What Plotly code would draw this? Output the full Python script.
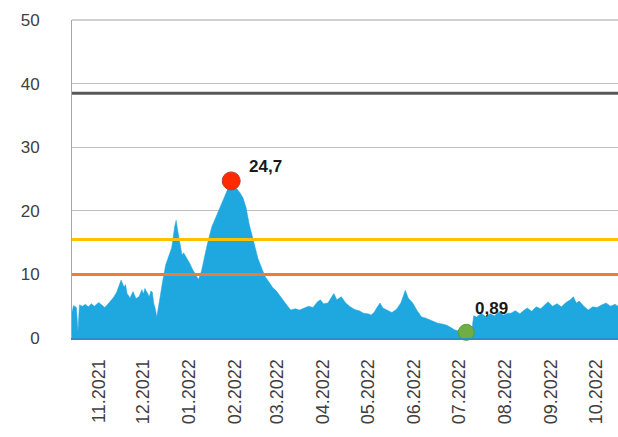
import plotly.graph_objects as go

# Daily index readings (date, value)
dates = [
    "2021-10-14", "2021-10-15", "2021-10-17", "2021-10-18", "2021-10-19", "2021-10-21",
    "2021-10-23", "2021-10-25", "2021-10-27", "2021-10-29", "2021-11-01", "2021-11-03",
    "2021-11-05", "2021-11-07", "2021-11-09", "2021-11-11", "2021-11-13", "2021-11-15",
    "2021-11-16", "2021-11-18", "2021-11-19", "2021-11-20", "2021-11-22", "2021-11-23",
    "2021-11-24", "2021-11-26", "2021-11-28", "2021-11-30", "2021-12-01", "2021-12-02",
    "2021-12-04", "2021-12-05", "2021-12-06", "2021-12-07", "2021-12-08", "2021-12-09",
    "2021-12-10", "2021-12-12", "2021-12-14", "2021-12-16", "2021-12-18", "2021-12-20",
    "2021-12-22", "2021-12-23", "2021-12-24", "2021-12-26", "2021-12-27", "2021-12-28",
    "2021-12-30", "2022-01-01", "2022-01-03", "2022-01-05", "2022-01-07", "2022-01-09",
    "2022-01-11", "2022-01-13", "2022-01-16", "2022-01-19", "2022-01-21", "2022-01-23",
    "2022-01-25", "2022-01-27", "2022-01-29", "2022-01-31", "2022-02-02", "2022-02-04",
    "2022-02-06", "2022-02-08", "2022-02-10", "2022-02-12", "2022-02-14", "2022-02-16",
    "2022-02-19", "2022-02-21", "2022-02-24", "2022-02-26", "2022-02-28", "2022-03-03",
    "2022-03-05", "2022-03-08", "2022-03-10", "2022-03-13", "2022-03-16", "2022-03-19",
    "2022-03-22", "2022-03-25", "2022-03-28", "2022-03-30", "2022-04-01", "2022-04-04",
    "2022-04-06", "2022-04-08", "2022-04-10", "2022-04-13", "2022-04-16", "2022-04-19",
    "2022-04-22", "2022-04-25", "2022-04-28", "2022-05-01", "2022-05-03", "2022-05-05",
    "2022-05-07", "2022-05-09", "2022-05-11", "2022-05-14", "2022-05-17", "2022-05-20",
    "2022-05-23", "2022-05-25", "2022-05-26", "2022-05-28", "2022-05-31", "2022-06-03",
    "2022-06-06", "2022-06-09", "2022-06-12", "2022-06-15", "2022-06-17", "2022-06-20",
    "2022-06-23", "2022-06-26", "2022-06-28", "2022-07-01", "2022-07-04", "2022-07-06",
    "2022-07-08", "2022-07-10", "2022-07-11", "2022-07-13", "2022-07-16", "2022-07-19",
    "2022-07-22", "2022-07-25", "2022-07-28", "2022-07-31", "2022-08-03", "2022-08-05",
    "2022-08-08", "2022-08-11", "2022-08-14", "2022-08-16", "2022-08-19", "2022-08-22",
    "2022-08-25", "2022-08-28", "2022-08-30", "2022-09-02", "2022-09-05", "2022-09-08",
    "2022-09-11", "2022-09-14", "2022-09-16", "2022-09-18", "2022-09-20", "2022-09-23",
    "2022-09-26", "2022-09-29", "2022-10-02", "2022-10-05", "2022-10-08", "2022-10-11",
    "2022-10-14", "2022-10-16",
]
values = [
    4.0, 5.1, 4.8, 1.0, 5.2, 5.0,
    5.3, 4.9, 5.4, 5.0, 5.6, 5.2,
    4.8, 5.3, 5.9, 6.4, 7.2, 8.3,
    9.1, 8.0, 8.4, 7.0, 6.3, 6.8,
    7.3, 6.2, 6.5, 7.6, 6.9, 7.8,
    6.8, 6.5, 7.4, 7.2, 5.4, 4.6,
    3.3, 6.5, 9.0, 11.5, 13.0, 14.2,
    17.5, 18.5, 17.0, 14.0, 13.0, 13.4,
    12.7, 11.8, 10.8, 10.0, 9.2, 10.5,
    12.8, 14.8, 17.5, 19.2, 20.3, 21.2,
    22.5, 23.5, 24.7, 24.0, 23.4, 22.8,
    22.0, 20.5, 18.0, 16.0, 14.2, 12.5,
    10.7, 9.6, 8.6, 7.9, 7.5, 6.5,
    6.0, 5.0, 4.4, 4.6, 4.4, 4.7,
    5.0, 4.8, 5.7, 6.0, 5.4, 5.5,
    6.2, 7.0, 6.0, 6.5, 5.5, 4.9,
    4.5, 4.3, 3.9, 3.8, 3.6, 4.0,
    4.8, 5.5, 4.7, 4.4, 4.0, 4.5,
    5.5, 6.8, 7.5, 6.3, 5.5, 4.3,
    3.3, 3.1, 2.8, 2.4, 2.3, 2.2,
    2.0, 1.6, 1.3, 1.1, 0.95, 0.89,
    1.3, 1.7, 3.5, 3.3, 3.9, 3.4,
    3.8, 3.5, 4.1, 3.6, 3.9, 3.9,
    4.3, 3.8, 4.4, 4.7, 4.2, 4.9,
    4.6, 5.2, 5.7, 5.0, 5.4, 4.9,
    5.6, 6.0, 6.5, 5.5, 5.8, 5.0,
    4.4, 4.9, 4.8, 5.2, 5.5, 5.0,
    5.3, 5.0,
]

# Reference levels
level_dark = 38.5
level_yellow = 15.5
level_orange = 10.0

# Month ticks
tick_vals = [
    "2021-11-01", "2021-12-01", "2022-01-01", "2022-02-01", "2022-03-01", "2022-04-01",
    "2022-05-01", "2022-06-01", "2022-07-01", "2022-08-01", "2022-09-01", "2022-10-01",
]
tick_text = [
    "11.2021", "12.2021", "01.2022", "02.2022", "03.2022", "04.2022",
    "05.2022", "06.2022", "07.2022", "08.2022", "09.2022", "10.2022",
]
y_ticks = [0, 10, 20, 30, 40, 50]

i_max = max(range(len(values)), key=lambda i: values[i])
i_min = min(range(len(values)), key=lambda i: values[i])


def fmt(v):
    return f"{v:g}".replace(".", ",")


FONT = "Liberation Sans"

fig = go.Figure()

fig.add_trace(go.Scatter(
    x=dates, y=values, mode="lines", fill="tozeroy",
    line=dict(color="#1FA7DF", width=0.5), fillcolor="#1FA7DF",
    hoverinfo="skip", showlegend=False,
))

# frame line along the top of the plotting area
fig.add_shape(type="line", xref="paper", x0=0, x1=1, yref="paper", y0=1, y1=1,
              line=dict(color="#BFBFBF", width=1.5), layer="above")

for lvl, col, w in [(level_orange, "#ED7D31", 3), (level_yellow, "#FFC000", 3),
                    (level_dark, "#595959", 3)]:
    fig.add_shape(type="line", xref="paper", x0=0, x1=1, yref="y", y0=lvl, y1=lvl,
                  line=dict(color=col, width=w), layer="above")

fig.add_trace(go.Scatter(
    x=[dates[i_max]], y=[values[i_max]], mode="markers",
    marker=dict(size=18, color="#FF2A00", line=dict(color="#C0392B", width=1)),
    showlegend=False, hoverinfo="skip",
))
fig.add_trace(go.Scatter(
    x=[dates[i_min]], y=[values[i_min]], mode="markers",
    marker=dict(size=16, color="#70AD47", line=dict(color="#5A9A3A", width=1)),
    showlegend=False, hoverinfo="skip", cliponaxis=False,
))

fig.add_annotation(x=dates[i_max], y=values[i_max], text=f"<b>{fmt(values[i_max])}</b>",
                   showarrow=False, xshift=34, yshift=14,
                   font=dict(family=FONT, size=17, color="#1A1A1A"))
fig.add_annotation(x=dates[i_min], y=values[i_min], text=f"<b>{fmt(values[i_min])}</b>",
                   showarrow=False, xshift=25, yshift=24,
                   font=dict(family=FONT, size=17, color="#1A1A1A"))

fig.update_layout(
    width=618, height=437,
    margin=dict(l=72, r=0, t=20, b=99),
    paper_bgcolor="white", plot_bgcolor="white",
    font=dict(family=FONT, size=17, color="#404040"),
    xaxis=dict(
        type="date", range=["2021-10-14", "2022-10-16"],
        tickvals=tick_vals, ticktext=tick_text, tickangle=-90,
        showgrid=False, zeroline=False, ticks="", ticklabelstandoff=12,
        showline=True, linecolor="#2A8FC8", linewidth=2,
        tickfont=dict(family=FONT, size=18, color="#404040"),
    ),
    yaxis=dict(
        range=[0, 50], tickvals=y_ticks,
        showgrid=True, gridcolor="#BFBFBF", gridwidth=1,
        zeroline=False, showline=True, linecolor="#A6A6A6", linewidth=1,
        ticks="", ticklabelstandoff=28,
        tickfont=dict(family=FONT, size=17, color="#404040"),
    ),
)

fig.write_html("out.html")
